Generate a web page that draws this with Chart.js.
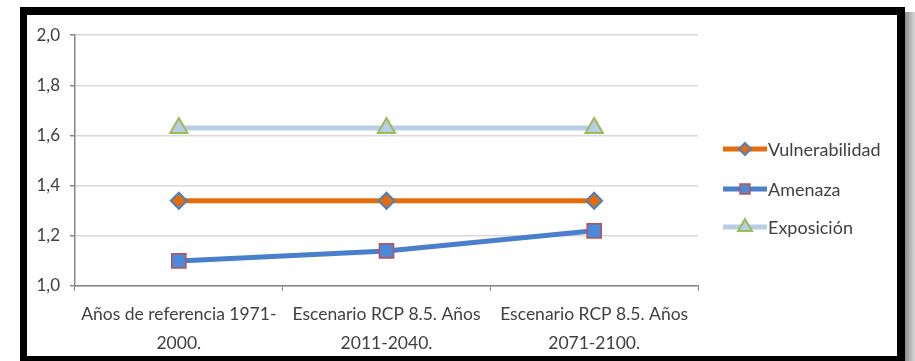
<!DOCTYPE html>
<html>
<head>
<meta charset="utf-8">
<script src="https://cdn.jsdelivr.net/npm/chart.js@4/dist/chart.umd.min.js"></script>
<style>
  html, body { margin: 0; padding: 0; background: #fff; }
  body { width: 915px; height: 361px; overflow: hidden; position: relative; }
  .frame {
    position: absolute; left: 20px; top: 7px;
    width: 870px; height: 341px;
    border-style: solid; border-color: #000;
    border-width: 8px 8px 8px 7px;
    background: #fff;
  }
  .shadow {
    position: absolute; left: 905px; top: 12px; width: 10px; height: 349px;
    background: linear-gradient(to right, #8c8c8c, #d8d8d8);
  }
  canvas { display: block; }
</style>
</head>
<body>
<div class="shadow"></div>
<div class="frame"><canvas id="chart" width="870" height="341"></canvas></div>
<script>
// data
const categories = [
  ['Años de referencia 1971-', '2000.'],
  ['Escenario RCP 8.5. Años', '2011-2040.'],
  ['Escenario RCP 8.5. Años', '2071-2100.']
];
const vulnerabilidad = [1.34, 1.34, 1.34];
const amenaza = [1.10, 1.14, 1.22];
const exposicion = [1.63, 1.63, 1.63];

const FONT = 'Lato, "Open Sans", sans-serif';

// legend: line segment with marker, like the spreadsheet one
const lineLegend = {
  id: 'lineLegend',
  afterDraw(chart) {
    const ctx = chart.ctx;
    const ys = [134, 174, 212];
    const sizes = [6, 7, 8];
    ctx.save();
    chart.data.datasets.forEach((ds, i) => {
      const y = ys[i];
      ctx.strokeStyle = ds.borderColor;
      ctx.lineWidth = 5;
      ctx.beginPath();
      ctx.moveTo(696, y);
      ctx.lineTo(740, y);
      ctx.stroke();
      ctx.fillStyle = ds.pointBackgroundColor;
      ctx.strokeStyle = ds.pointBorderColor;
      ctx.lineWidth = ds.pointBorderWidth;
      Chart.helpers.drawPoint(ctx, {
        pointStyle: ds.pointStyle, rotation: 0, radius: sizes[i], borderWidth: ds.pointBorderWidth
      }, 718, y);
      ctx.fillStyle = '#404040';
      ctx.font = '18px ' + FONT;
      ctx.textBaseline = 'middle';
      ctx.fillText(ds.label, 741, y + 1);
    });
    ctx.restore();
  }
};

new Chart(document.getElementById('chart'), {
  type: 'line',
  data: {
    labels: categories,
    datasets: [
      {
        label: 'Vulnerabilidad',
        data: vulnerabilidad,
        borderColor: '#E46C0A',
        borderWidth: 5,
        pointStyle: 'rectRot',
        pointRadius: 8,
        pointBackgroundColor: '#E46C0A',
        pointBorderColor: '#4F81BD',
        pointBorderWidth: 2
      },
      {
        label: 'Amenaza',
        data: amenaza,
        borderColor: '#4A7FCB',
        borderWidth: 5,
        pointStyle: 'rect',
        pointRadius: 10,
        pointBackgroundColor: '#4A89DC',
        pointBorderColor: '#C0504D',
        pointBorderWidth: 1.5
      },
      {
        label: 'Exposición',
        data: exposicion,
        borderColor: '#B9CDE5',
        borderWidth: 5,
        pointStyle: 'triangle',
        pointRadius: 10,
        pointBackgroundColor: '#B9CDE5',
        pointBorderColor: '#9BBB59',
        pointBorderWidth: 2
      }
    ]
  },
  options: {
    responsive: false,
    animation: false,
    layout: { padding: { top: 18, right: 199, left: 0, bottom: 0 } },
    plugins: { legend: { display: false }, tooltip: { enabled: false } },
    scales: {
      x: {
        offset: true,
        afterFit(scale) { scale.height = 70; },
        grid: { display: true, drawOnChartArea: false, offset: true, tickLength: 5, tickColor: '#868686' },
        border: { color: '#868686', width: 1.5 },
        ticks: {
          color: '#404040', padding: 9, maxRotation: 0, autoSkip: false,
          font: { family: FONT, size: 17.5, lineHeight: 1.66 }
        }
      },
      y: {
        min: 1, max: 2,
        afterFit(scale) { scale.width = 48; },
        grid: { color: '#D9D9D9', lineWidth: 1.5, tickLength: 5, tickColor: '#868686' },
        border: { color: '#868686', width: 1.5 },
        ticks: {
          stepSize: 0.2, color: '#404040', padding: 10,
          font: { family: FONT, size: 17 },
          callback: v => v.toFixed(1).replace('.', ',')
        }
      }
    }
  },
  plugins: [lineLegend]
});
</script>
</body>
</html>
